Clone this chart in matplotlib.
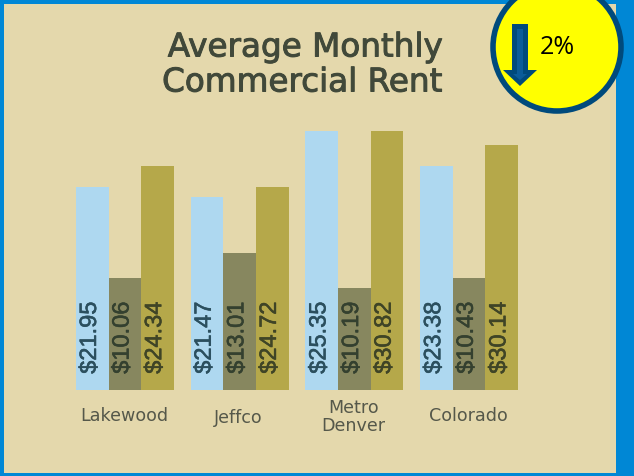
import numpy as np
from matplotlib import pyplot as plt
from matplotlib.patches import Circle, Polygon, Rectangle
import matplotlib.patheffects as pe

W = 634
H = 476

# Chart values
regions = ['Lakewood', 'Jeffco', 'Metro\nDenver', 'Colorado']
label_office = ['$21.95', '$21.47', '$25.35', '$23.38']
label_middle = ['$10.06', '$13.01', '$10.19', '$10.43']
label_last = ['$24.34', '$24.72', '$30.82', '$30.14']
# Bar heights as drawn (the graphic is not quite to scale with its labels)
height_first = [21.95, 20.9, 28.0, 24.2]
height_middle = [12.1, 14.8, 11.0, 12.1]
height_last = [24.2, 21.95, 28.0, 26.5]
change_text = '2%'

BORDER = '#0087d5'
PANEL = '#e4d8ac'
DARK = '#41493a'

fig = plt.figure(figsize=(W / 100, H / 100), dpi=100, facecolor=BORDER)

# background layer in pixel coordinates
bg = fig.add_axes([0, 0, 1, 1])
bg.set_xlim(0, W)
bg.set_ylim(H, 0)
bg.axis('off')
bg.add_patch(Rectangle((4, 4), 612, 469, fc=PANEL, ec='none'))

heavy = [pe.withStroke(linewidth=0.7, foreground=DARK)]
bg.text(305, 47, 'Average Monthly', fontsize=23.5, family='DejaVu Sans', color=DARK,
        ha='center', va='center', path_effects=heavy)
bg.text(302, 82, 'Commercial Rent', fontsize=23.5, family='DejaVu Sans', color=DARK,
        ha='center', va='center', path_effects=heavy)

# bars
ax = fig.add_axes([76 / W, 1 - 390 / H, 442 / W, 259 / H])
ax.patch.set_alpha(0)
x = np.arange(len(regions))
width = 0.284
ax.bar(x - width, height_first, width, color='#aed8f0')
ax.bar(x, height_middle, width, color='#87875f')
ax.bar(x + width, height_last, width, color='#b5a84a')
ax.set_xlim(-0.426, 3.426)
ax.set_ylim(0, 28)
ax.axis('off')

series = [(-width, label_office, '#2b4f5e'),
          (0, label_middle, '#34402f'),
          (width, label_last, '#3f4426')]
for off, labels, col in series:
    for i, lab in enumerate(labels):
        ax.text(x[i] + off - 0.02, 1.75, lab, rotation=90, ha='center', va='bottom',
                fontsize=17, color=col, family='Liberation Sans',
                path_effects=[pe.withStroke(linewidth=0.4, foreground=col)])

# region names
name_y = [416, 418, 417, 416]
for i, name in enumerate(regions):
    px = ax.transData.transform((x[i], 0))[0]
    bg.text(px - 1, name_y[i], name, ha='center', va='center', fontsize=12.6,
            family='DejaVu Sans', color='#55584a', linespacing=1.0)

# badge
bg.add_patch(Circle((557, 47), 64, fc='#ffff00', ec='#004a7c', lw=4))
bg.add_patch(Polygon([(512, 24), (528, 24), (528, 70), (537, 70), (520, 86),
                      (503, 70), (512, 70)], fc='#004a7c', ec='none'))
bg.add_patch(Polygon([(517, 29), (523, 29), (523, 74), (527, 74), (520, 80),
                      (513, 74), (517, 74)], fc='#0a5c9a', ec='none'))
bg.text(557, 47, change_text, fontsize=18, family='Open Sans', color='black',
        ha='center', va='center')

plt.savefig('out.png', dpi=100, facecolor=fig.get_facecolor())
